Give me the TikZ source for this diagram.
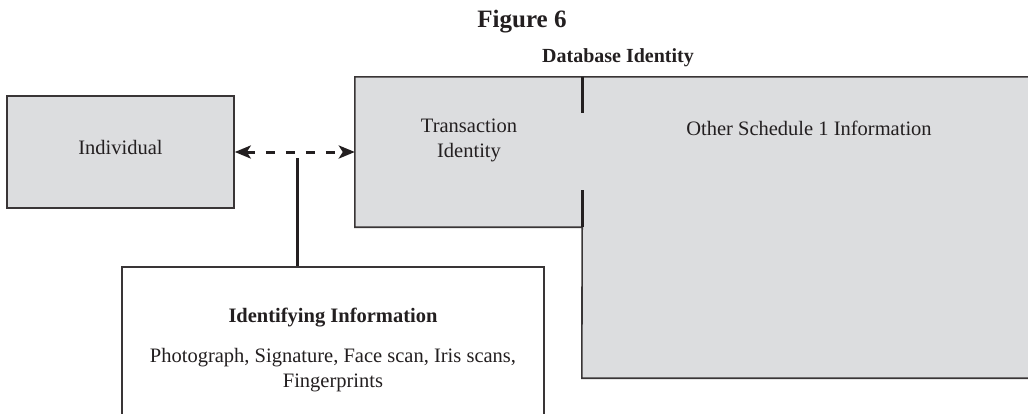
\documentclass[tikz,border=0pt]{standalone}
\usepackage{fontspec}
\setmainfont{Liberation Serif}
\usetikzlibrary{arrows.meta}
\definecolor{boxgray}{RGB}{220,221,223}
\definecolor{ink}{RGB}{35,31,32}
\tikzset{
  grayfill/.style={fill=boxgray, draw=none, minimum width=#1, inner sep=0pt},
  outline/.style={draw=ink!90, line width=1.6pt},
  divider/.style={draw=ink, line width=3pt},
  label/.style={font=\fontsize{20.5}{25}\selectfont, text=ink, align=center, inner sep=0pt},
  boldlabel/.style={font=\fontsize{20.5}{25}\selectfont\bfseries, text=ink, align=center, inner sep=0pt},
  conn/.style={draw=ink, line width=3pt},
}
\begin{document}
\begin{tikzpicture}[x=1pt,y=-1pt]
\useasboundingbox (0,0) rectangle (1028,413);
\clip (0,0) rectangle (1028,413);
% titles
\node[font=\fontsize{25}{30}\selectfont\bfseries, text=ink, inner sep=0pt] (fig) at (522,22) {Figure 6};
\node[font=\fontsize{20}{24}\selectfont\bfseries, text=ink, inner sep=0pt] (dbid) at (618,58) {Database Identity};
% individual
\node[fill=boxgray, outline, minimum width=227pt, minimum height=112pt, inner sep=0pt] (indiv) at (120.5,152) {};
\node[label] (indivtxt) at (120.5,147) {Individual};
% database identity: transaction + other
\node[grayfill=227pt, minimum height=150pt] (trans) at (468.5,152) {};
\node[grayfill=460pt, minimum height=301pt] (other) at (812,227.5) {};
\draw[outline] (other.north east) -- (trans.north west) -- (trans.south west) -- (trans.south east) -- (other.south west) -- (other.south east);
\draw[divider] (trans.north east) -- ++(0,36);
\draw[divider] (trans.south east) -- ++(0,-37);
\node[label] (transtxt) at (469,140.5) {Transaction\\Identity};
\node[label] (othertxt) at (809,128) {Other Schedule 1 Information};
% identifying information box
\node[fill=white, outline, minimum width=422pt, minimum height=180pt, inner sep=0pt, anchor=north] (idbox) at (333,266) {};
\node[boldlabel] (idtitle) at (333,318) {Identifying Information};
\node[label] (idtxt) at (333,370.5) {Photograph, Signature, Face scan, Iris scans,\\Fingerprints};
% connectors
\draw[conn, dash pattern=on 9pt off 11pt, {Stealth[length=16pt,width=13pt,inset=4pt]}-{Stealth[length=16pt,width=13pt,inset=4pt]}] (indiv.east |- 0,152) -- (trans.west);
\coordinate (tap) at (297,158);
\draw[conn] (tap) -- (tap |- idbox.north);
\end{tikzpicture}
\end{document}
